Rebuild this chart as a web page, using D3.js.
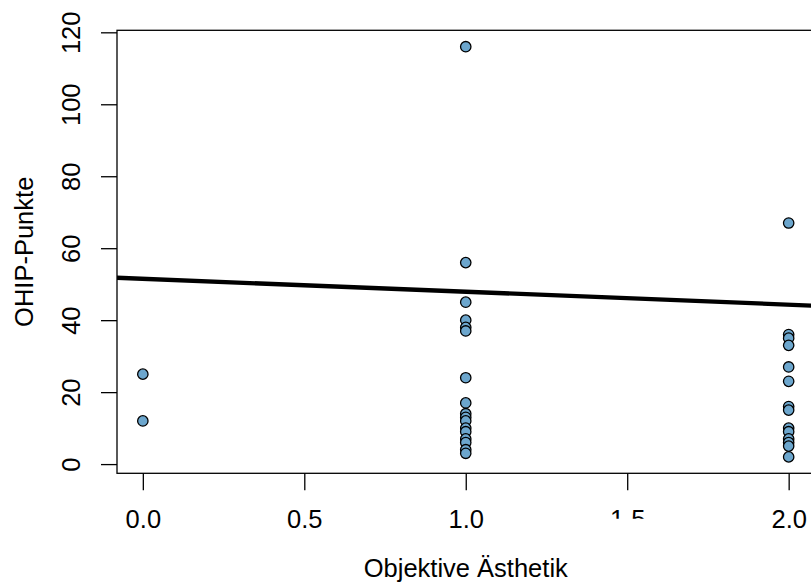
<!DOCTYPE html>
<html lang="de">

<head>
  <meta charset="UTF-8">
  <title>OHIP scatter</title>
  <script src="https://cdn.jsdelivr.net/npm/d3@7"></script>
  <style>
    body { margin: 0; background: #fff; }
    text { font-family: "Liberation Sans", Arial, sans-serif; fill: #000; }
  </style>
</head>

<body>
<script>
let width = 811;
let height = 585;
let fontSize = '25.5px';

// Objektive Ästhetik (0, 1, 2) and OHIP points
let xValues = [0, 0,
  1, 1, 1, 1, 1, 1, 1, 1, 1, 1, 1, 1, 1, 1, 1, 1, 1,
  2, 2, 2, 2, 2, 2, 2, 2, 2, 2, 2, 2, 2, 2];
let yValues = [25, 12,
  116, 56, 45, 40, 38, 37, 24, 17, 14, 13, 12, 10, 9, 7, 6, 4, 3,
  67, 36, 35, 33, 27, 23, 16, 15, 10, 9, 7, 6, 5, 2];

// fitted line drawn over the points
let fitIntercept = 51.5;
let fitSlope = -3.6;

let xTicks = [0, 0.5, 1, 1.5, 2];
let yTicks = [0, 20, 40, 60, 80, 100, 120];

let xLabel = 'Objektive Ästhetik';
let yLabel = 'OHIP-Punkte';

// R style: 4% padding around data range
let xExt = d3.extent(xValues);
let yExt = d3.extent(yValues);
let xPad = (xExt[1] - xExt[0]) * 0.04;
let yPad = (yExt[1] - yExt[0]) * 0.04;

let x = d3.scaleLinear()
  .domain([xExt[0] - xPad, xExt[1] + xPad])
  .range([117, 814.5]);
let y = d3.scaleLinear()
  .domain([yExt[0] - yPad, yExt[1] + yPad])
  .range([473.3, 30.3]);

let svg = d3.select('body').append('svg')
  .attr('width', width)
  .attr('height', height);

let defs = svg.append('defs');
defs.append('clipPath')
  .attr('id', 'plotClip')
  .append('rect')
  .attr('x', x.range()[0])
  .attr('y', y.range()[1])
  .attr('width', x.range()[1] - x.range()[0])
  .attr('height', y.range()[0] - y.range()[1]);
// the 1.5 label is mostly hidden in the original
defs.append('clipPath')
  .attr('id', 'halfLabel')
  .append('rect')
  .attr('x', -40)
  .attr('y', 0)
  .attr('width', 80)
  .attr('height', 45.5);

// axes
let xAxis = d3.axisBottom(x)
  .tickValues(xTicks)
  .tickSize(17)
  .tickFormat(d3.format('.1f'));

let gx = svg.append('g')
  .attr('transform', 'translate(0,' + y.range()[0] + ')')
  .call(xAxis);
gx.select('.domain').remove();
gx.selectAll('.tick line').attr('stroke', '#000').attr('stroke-width', 1.3);
gx.selectAll('.tick text')
  .attr('y', 55)
  .attr('dy', 0)
  .style('font-size', fontSize)
  .attr('fill', '#000')
  .attr('clip-path', function (d) {
    return d === 1.5 ? 'url(#halfLabel)' : null;
  });

let yAxis = d3.axisLeft(y)
  .tickValues(yTicks)
  .tickSize(16)
  .tickFormat(d3.format('d'));

let gy = svg.append('g')
  .attr('transform', 'translate(' + x.range()[0] + ',0)')
  .call(yAxis);
gy.select('.domain').remove();
gy.selectAll('.tick line').attr('stroke', '#000').attr('stroke-width', 1.3);
gy.selectAll('.tick text')
  .attr('x', 0)
  .attr('dy', 0)
  .attr('text-anchor', 'middle')
  .attr('transform', 'translate(-37,0) rotate(-90)')
  .style('font-size', fontSize)
  .attr('fill', '#000');

// titles
svg.append('text')
  .attr('x', (x.range()[0] + x.range()[1]) / 2)
  .attr('y', 577)
  .attr('text-anchor', 'middle')
  .style('font-size', fontSize)
  .text(xLabel);

svg.append('text')
  .attr('transform', 'translate(33,' + (y.range()[0] + y.range()[1]) / 2 + ') rotate(-90)')
  .attr('text-anchor', 'middle')
  .style('font-size', fontSize)
  .text(yLabel);

// points
let points = d3.range(xValues.length).map(function (i) {
  return { x: xValues[i], y: yValues[i] };
});

let plot = svg.append('g').attr('clip-path', 'url(#plotClip)');

plot.selectAll('circle')
  .data(points)
  .enter()
  .append('circle')
  .attr('cx', function (d) { return x(d.x); })
  .attr('cy', function (d) { return y(d.y); })
  .attr('r', 5.2)
  .attr('fill', '#6CA6CD')
  .attr('stroke', '#000')
  .attr('stroke-width', 1.3);

// fitted line
let line = d3.line()
  .x(function (d) { return x(d); })
  .y(function (d) { return y(fitIntercept + fitSlope * d); });

plot.append('path')
  .attr('d', line(x.domain()))
  .attr('fill', 'none')
  .attr('stroke', '#000')
  .attr('stroke-width', 4.3);

// box
svg.append('rect')
  .attr('x', x.range()[0])
  .attr('y', y.range()[1])
  .attr('width', x.range()[1] - x.range()[0])
  .attr('height', y.range()[0] - y.range()[1])
  .attr('fill', 'none')
  .attr('stroke', '#000')
  .attr('stroke-width', 1.3);
</script>
</body>

</html>
